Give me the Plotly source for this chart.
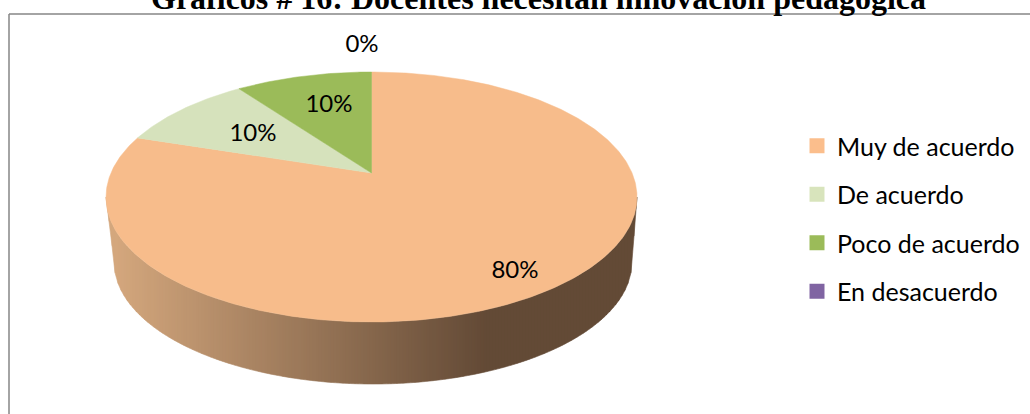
import numpy as np
import plotly.graph_objects as go

categories = ["Muy de acuerdo", "De acuerdo", "Poco de acuerdo", "En desacuerdo"]
values = [80, 10, 10, 0]
colors = ["#F7BC8B", "#D6E2BC", "#9BBB59", "#8064A2"]
legend_colors = ["#FBBE8C", "#D8E4BC", "#9BBB59", "#8064A2"]
title = "Gráficos # 16: Docentes necesitan innovación pedagógica"
label_x = [515, 253, 329, 362]
label_y = [271.5, 134.5, 105.5, 45.5]

W, H = 1030, 414
CX, CY, RX, RY = 371.5, 197.0, 265.5, 125.0   # top ellipse
K = 24.0 / RY                                  # perspective shift of the pie centre
CX2, CY2, RX2, RY2 = 373.0, 262.0, 259.0, 122.0  # bottom ellipse
FONT = "Lato"
FS = 24


def project(theta, r=1.0):
    """Disc point (angle clockwise from top) -> page position, with perspective."""
    u, v = r * np.sin(theta), r * np.cos(theta)
    d = 1 + K * v
    return CX + RX * u * np.sqrt(1 - K * K) / d, CY - RY * (v + K) / d


def mix(a, b, t):
    return "rgb(%d,%d,%d)" % tuple(round(a[i] + (b[i] - a[i]) * t) for i in range(3))


def lower_edge(x):
    q = (x - CX2) / RX2
    if abs(q) < 1:
        return CY2 + RY2 * np.sqrt(1 - q * q)
    if x < CX2:
        return CY + (CY2 - CY) * (x - (CX - RX)) / (CX2 - RX2 - (CX - RX))
    return CY + (CY2 - CY) * ((CX + RX) - x) / ((CX + RX) - (CX2 + RX2))


def upper_edge(x):
    q = min(1.0, abs(x - CX) / RX)
    return CY + RY * np.sqrt(1 - q * q)


fig = go.Figure()

# side wall, drawn as vertical strips with a left-to-right shade
light, dark = (212, 167, 125), (99, 74, 54)
edges = np.arange(CX - RX, CX + RX + 3, 3.0)
edges[-1] = CX + RX
for x0, x1 in zip(edges[:-1], edges[1:]):
    t = min(1.0, max(0.0, ((x0 + x1) / 2 - 115) / (485 - 115)))
    c = mix(light, dark, t)
    xs = np.linspace(x0, x1, 4)
    top = [upper_edge(x) for x in xs]
    bot = [lower_edge(x) for x in xs]
    fig.add_trace(go.Scatter(
        x=list(xs) + list(xs[::-1]), y=top + bot[::-1], mode="lines", fill="toself",
        fillcolor=c, line=dict(color=c, width=0.6), hoverinfo="skip", showlegend=False))

# top face
total = sum(values)
start = 0.0
for name, val, col in zip(categories, values, colors):
    if val > 0:
        end = start + 2 * np.pi * val / total
        th = np.linspace(start, end, max(3, int(val * 6)))
        px, py = project(th)
        ax, ay = project(0.0, 0.0)
        fig.add_trace(go.Scatter(
            x=[ax] + list(px) + [ax], y=[ay] + list(py) + [ay], mode="lines", fill="toself",
            fillcolor=col, line=dict(color=col, width=0.5), name=name,
            hoverinfo="skip", showlegend=False))
        start = end

# percentage labels
fig.add_trace(go.Scatter(
    x=label_x, y=label_y, mode="text", text=[f"{round(v * 100 / total)}%" for v in values],
    textposition="middle center", textfont=dict(family=FONT, size=FS, color="#000000"),
    hoverinfo="skip", showlegend=False))

# legend entries
for i, (name, col) in enumerate(zip(categories, legend_colors)):
    fig.add_trace(go.Scatter(
        x=[None], y=[None], mode="markers", name=name, legendgroup=name,
        marker=dict(symbol="square", size=15, color=col)))

fig.add_annotation(
    x=538, y=18, xref="x", yref="y", text=f"<b>{title}</b>", showarrow=False,
    xanchor="center", yanchor="bottom",
    font=dict(family="Liberation Serif", size=32, color="#000000"))

frame = dict(color="#868686", width=1.5)
fig.add_shape(type="line", x0=9, x1=9, y0=14, y1=H, xref="x", yref="y", line=frame)
fig.add_shape(type="line", x0=9, x1=W, y0=14, y1=14, xref="x", yref="y", line=frame)

fig.update_layout(
    width=W, height=H, margin=dict(l=0, r=0, t=0, b=0),
    paper_bgcolor="#FFFFFF", plot_bgcolor="#FFFFFF",
    xaxis=dict(range=[0, W], visible=False, fixedrange=True),
    yaxis=dict(range=[H, 0], visible=False, fixedrange=True),
    showlegend=True,
    legend=dict(x=797 / W, xanchor="left", y=1 - 123 / H, yanchor="top",
                traceorder="grouped", tracegroupgap=13, itemwidth=30,
                font=dict(family=FONT, size=25, color="#000000"),
                bgcolor="rgba(0,0,0,0)"),
)

fig.write_html("out.html", config={"displayModeBar": False},
               post_script="document.body.style.margin='0';document.body.style.overflow='hidden';")
